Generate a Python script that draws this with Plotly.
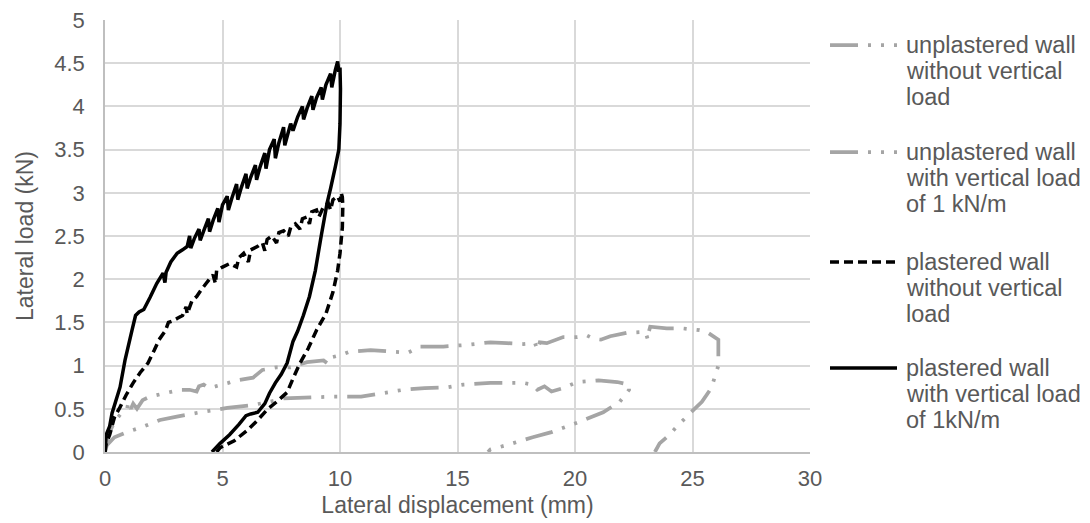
import plotly.graph_objects as go

# ---------------- data ----------------
# unplastered wall without vertical load (grey, lower loop)
unpl_novert_x = [0, 0.08, 0.4, 0.93, 1.6, 2.34, 3.06, 4.05, 5.2, 6.2, 7.0, 7.6, 8.5, 9.6,
                 10.9, 11.8, 12.7, 13.6, 14.6, 15.25, 16.4, 17.8, 18.2, 18.4, 18.7, 19.0,
                 19.5, 20.1, 21.0, 21.8, 22.3, 22.3, 21.9, 21.2, 20.2, 19.5, 19.0, 18.2,
                 17.1, 16.4, 16.3]
unpl_novert_y = [0, 0.08, 0.17, 0.23, 0.29, 0.37, 0.41, 0.46, 0.51, 0.54, 0.58, 0.62, 0.63, 0.64,
                 0.64, 0.68, 0.72, 0.74, 0.75, 0.78, 0.80, 0.80, 0.78, 0.72, 0.76, 0.70,
                 0.74, 0.81, 0.83, 0.81, 0.78, 0.72, 0.58, 0.46, 0.35, 0.28, 0.23, 0.17,
                 0.08, 0.03, 0.0]

# unplastered wall with vertical load of 1 kN/m (grey, upper loop)
unpl_vert_x = [0, 0.15, 0.4, 0.7, 0.93, 1.0, 1.1, 1.2, 1.36, 1.6, 1.9, 2.55, 3.2, 3.6, 3.9, 4.0,
               4.2, 4.4, 4.7, 5.25, 5.6, 6.3, 6.7, 7.3, 7.9, 8.6, 9.3, 9.5, 9.7, 10.0, 10.4,
               11.3, 12.3, 12.9, 13.4, 14.4, 15.4, 16.4, 17.1, 17.8, 18.3, 18.4, 18.5, 18.8,
               19.5, 20.1, 20.5, 20.8, 21.1, 21.5, 22.2, 23.0, 23.1, 23.15, 23.2, 23.9, 24.6,
               25.3, 25.6, 26.1, 26.1, 26.1, 25.8, 25.4, 24.9, 24.5, 23.9, 23.6, 23.4]
unpl_vert_y = [0, 0.2, 0.35, 0.45, 0.49, 0.58, 0.50, 0.56, 0.50, 0.60, 0.64, 0.68, 0.72, 0.72, 0.70, 0.76,
               0.78, 0.74, 0.76, 0.80, 0.83, 0.86, 0.95, 0.98, 0.98, 1.04, 1.06, 1.02, 1.10, 1.12, 1.16,
               1.18, 1.16, 1.15, 1.22, 1.22, 1.24, 1.27, 1.26, 1.25, 1.26, 1.18, 1.27, 1.26,
               1.33, 1.33, 1.35, 1.31, 1.30, 1.34, 1.38, 1.39, 1.30, 1.40, 1.45, 1.43, 1.43,
               1.41, 1.39, 1.30, 1.22, 1.00, 0.74, 0.58, 0.45, 0.34, 0.17, 0.10, 0.0]

# plastered wall without vertical load (black dashed)
pl_novert_x = [0, 0.05, 0.2, 0.4, 0.64, 0.9, 1.2, 1.5, 1.83, 2.1, 2.3, 2.56, 2.7, 2.9, 3.1, 3.3,
               3.45, 3.5, 3.7, 3.9, 4.1, 4.3, 4.5, 4.6, 4.7, 4.75, 5.0, 5.3, 5.6, 5.7, 5.9, 6.1,
               6.2, 6.5, 6.7, 6.8, 6.9, 7.1, 7.3, 7.4, 7.6, 7.8, 7.9, 8.1, 8.3, 8.4, 8.6, 8.7,
               8.8, 9.0, 9.1, 9.3, 9.5, 9.6, 9.7, 9.9, 10.0, 10.05, 10.1,
               10.12, 10.1, 10.0, 9.9, 9.7, 9.4, 9.0, 8.65, 8.3, 8.0, 7.75, 7.3, 6.9, 6.5, 6.05,
               5.5, 4.9, 4.75]
pl_novert_y = [0, 0.1, 0.2, 0.4, 0.52, 0.66, 0.8, 0.92, 1.03, 1.18, 1.3, 1.4, 1.5, 1.52, 1.55, 1.58,
               1.68, 1.60, 1.75, 1.80, 1.88, 1.95, 2.02, 2.05, 1.95, 2.10, 2.14, 2.18, 2.14, 2.25, 2.30, 2.20,
               2.34, 2.38, 2.42, 2.33, 2.46, 2.50, 2.42, 2.54, 2.56, 2.50, 2.60, 2.64, 2.58, 2.70, 2.72, 2.64,
               2.78, 2.80, 2.72, 2.84, 2.88, 2.80, 2.92, 2.96, 2.90, 3.00, 2.95,
               2.85, 2.60, 2.30, 2.10, 1.85, 1.60, 1.41, 1.20, 1.03, 0.85, 0.69, 0.58, 0.49, 0.37, 0.25,
               0.13, 0.05, 0.0]

# plastered wall with vertical load of 1 kN/m (black solid)
pl_vert_x = [0, 0.05, 0.2, 0.3, 0.64, 0.85, 1.15, 1.3, 1.45, 1.65, 1.92, 2.2, 2.47, 2.55, 2.6,
             2.8, 3.07, 3.3, 3.5, 3.6, 3.65, 3.8, 4.0, 4.05, 4.2, 4.4, 4.45, 4.6, 4.8, 4.85,
             5.0, 5.2, 5.25, 5.4, 5.6, 5.65, 5.8, 6.0, 6.05, 6.2, 6.4, 6.45, 6.6, 6.8, 6.85,
             7.0, 7.2, 7.25, 7.4, 7.6, 7.65, 7.8, 7.9, 8.0, 8.2, 8.4, 8.45, 8.6, 8.8, 8.85,
             9.0, 9.2, 9.25, 9.4, 9.6, 9.65, 9.8, 9.9, 9.95, 10.0,
             10.02, 10.0, 9.95, 9.8, 9.6, 9.45, 9.2, 8.95, 8.7, 8.44, 8.2, 8.0, 7.75, 7.5,
             7.25, 7.0, 6.8, 6.5, 6.2, 6.0, 5.7, 5.3, 4.9, 4.55]
pl_vert_y = [0, 0.2, 0.3, 0.45, 0.75, 1.06, 1.41, 1.58, 1.62, 1.65, 1.79, 1.95, 2.07, 1.96, 2.08,
             2.2, 2.30, 2.34, 2.38, 2.50, 2.36, 2.47, 2.58, 2.45, 2.56, 2.70, 2.55, 2.68, 2.82, 2.66,
             2.86, 2.96, 2.80, 2.94, 3.10, 2.92, 3.06, 3.22, 3.05, 3.18, 3.32, 3.15, 3.30, 3.46, 3.28,
             3.50, 3.62, 3.40, 3.58, 3.76, 3.55, 3.70, 3.80, 3.72, 3.88, 4.00, 3.85, 3.98, 4.12, 3.96,
             4.10, 4.22, 4.08, 4.25, 4.38, 4.22, 4.42, 4.52, 4.40, 4.45,
             4.20, 3.80, 3.50, 3.30, 3.05, 2.88, 2.50, 2.10, 1.80, 1.58, 1.40, 1.28, 1.03, 0.90,
             0.80, 0.68, 0.56, 0.46, 0.44, 0.42, 0.32, 0.20, 0.10, 0.0]

series_names = [
    ["unplastered wall", "without vertical", "load"],
    ["unplastered wall", "with vertical load", "of 1 kN/m"],
    ["plastered wall", "without vertical", "load"],
    ["plastered wall", "with vertical load", "of 1kN/m"],
]
x_ticks = [0, 5, 10, 15, 20, 25, 30]
y_ticks = [0, 0.5, 1, 1.5, 2, 2.5, 3, 3.5, 4, 4.5, 5]

# ---------------- styles ----------------
GREY = "#A5A5A5"
BLACK = "#000000"
TXT = "#595959"
FONT = "Liberation Sans, Arial, sans-serif"
grey_dash = "28px,10px,3px,10px,3px,10px"
black_dash = "9px,5px"

styles = [
    dict(color=GREY, width=3.75, dash=grey_dash),
    dict(color=GREY, width=3.75, dash=grey_dash),
    dict(color=BLACK, width=3.5, dash=black_dash),
    dict(color=BLACK, width=3.5, dash="solid"),
]
data = [
    (unpl_novert_x, unpl_novert_y),
    (unpl_vert_x, unpl_vert_y),
    (pl_novert_x, pl_novert_y),
    (pl_vert_x, pl_vert_y),
]

fig = go.Figure()
for (xs, ys), st, nm in zip(data, styles, series_names):
    fig.add_trace(go.Scatter(x=xs, y=ys, mode="lines", name=" ".join(nm),
                             line=dict(**st, simplify=False), showlegend=False))

W, H = 1090, 523
ML, MR, MT, MB = 105, 280, 20, 71
pw, ph = W - ML - MR, H - MT - MB


def px2paper_x(px):
    return (px - ML) / pw


def px2paper_y(py):
    return (H - MB - py) / ph


# manual legend (symbol samples + text lines)
legend_rows = [45, 152, 262, 368]
LINE_GAP = 26
for row, st, lines in zip(legend_rows, styles, series_names):
    fig.add_shape(type="line", xref="paper", yref="paper",
                  x0=px2paper_x(830), x1=px2paper_x(897),
                  y0=px2paper_y(row), y1=px2paper_y(row),
                  line=dict(color=st["color"], width=st["width"], dash=st["dash"]))
    for i, ln in enumerate(lines):
        fig.add_annotation(xref="paper", yref="paper", x=px2paper_x(904),
                           y=px2paper_y(row + i * LINE_GAP),
                           xanchor="left", yanchor="middle", align="left", showarrow=False,
                           text=ln, font=dict(family=FONT, size=23.5, color=TXT))

axis_common = dict(
    showgrid=True, gridcolor="#D9D9D9", gridwidth=1.5,
    showline=True, linecolor="#BFBFBF", linewidth=1.5,
    zeroline=False, ticks="",
    tickfont=dict(family=FONT, size=22, color=TXT),
)
fig.update_xaxes(range=[0, 30], tickvals=x_ticks, ticktext=[str(v) for v in x_ticks],
                 title=dict(text="Lateral displacement (mm)", font=dict(family=FONT, size=23, color=TXT),
                            standoff=7),
                 ticklabelstandoff=6, **axis_common)
fig.update_yaxes(range=[0, 5], tickvals=y_ticks, ticktext=[f"{v:g}" for v in y_ticks],
                 title=dict(text="Lateral load (kN)", font=dict(family=FONT, size=23, color=TXT),
                            standoff=14),
                 ticklabelstandoff=14, **axis_common)

fig.update_layout(width=W, height=H, margin=dict(l=ML, r=MR, t=MT, b=MB, autoexpand=False),
                  paper_bgcolor="white", plot_bgcolor="white", showlegend=False,
                  font=dict(family=FONT, color=TXT))

fig.write_html("out.html")
